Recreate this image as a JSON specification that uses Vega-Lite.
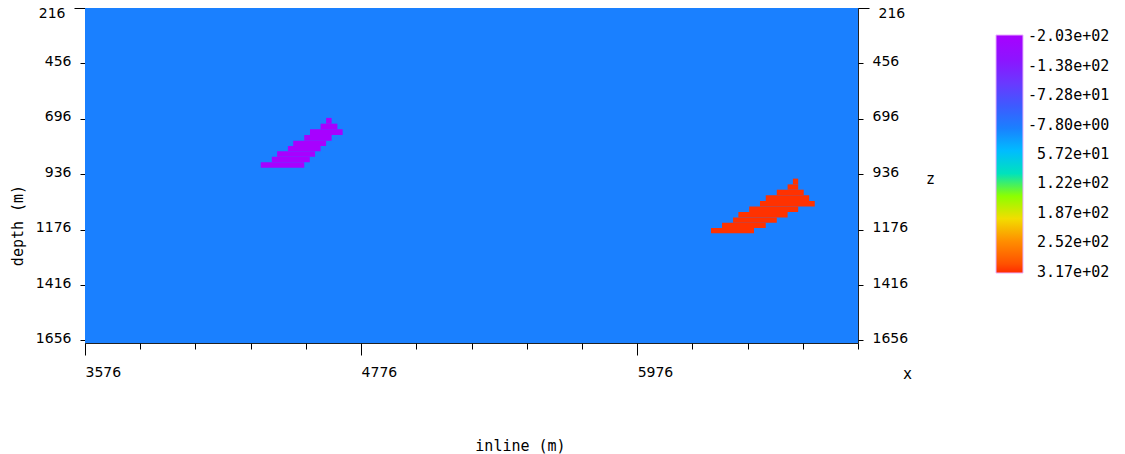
{
  "$schema": "https://vega.github.io/schema/vega-lite/v6.json",
  "width": 773,
  "height": 335,
  "autosize": {"type": "none"},
  "padding": {"left": 85, "top": 8, "right": 267, "bottom": 111},
  "background": "white",
  "config": {
    "view": {"stroke": "#222", "strokeWidth": 1},
    "axis": {"grid": false, "domain": false, "tickColor": "black", "labelColor": "black", "titleColor": "black", "titleFontWeight": "normal"}
  },
  "title": {"text": "inline (m)", "orient": "bottom", "anchor": "middle", "frame": "group", "dx": 49, "offset": 58, "font": "DejaVu Sans Mono", "fontSize": 15, "fontWeight": "normal", "color": "black"},
  "data": {"values": [
    {"x0": 3576, "x1": 6936, "y0": 216, "y1": 1667, "v": 0},
    {"x0": 4624, "x1": 4648, "y0": 692, "y1": 717, "v": -203},
    {"x0": 4600, "x1": 4673, "y0": 717, "y1": 741, "v": -203},
    {"x0": 4554, "x1": 4696, "y0": 741, "y1": 766, "v": -203},
    {"x0": 4529, "x1": 4648, "y0": 766, "y1": 791, "v": -203},
    {"x0": 4481, "x1": 4624, "y0": 791, "y1": 814, "v": -203},
    {"x0": 4458, "x1": 4600, "y0": 814, "y1": 837, "v": -203},
    {"x0": 4411, "x1": 4576, "y0": 837, "y1": 860, "v": -203},
    {"x0": 4388, "x1": 4553, "y0": 860, "y1": 884, "v": -203},
    {"x0": 4340, "x1": 4529, "y0": 884, "y1": 908, "v": -203},
    {"x0": 6653, "x1": 6676, "y0": 955, "y1": 980, "v": 317},
    {"x0": 6630, "x1": 6676, "y0": 980, "y1": 1003, "v": 317},
    {"x0": 6583, "x1": 6700, "y0": 1003, "y1": 1027, "v": 317},
    {"x0": 6535, "x1": 6724, "y0": 1027, "y1": 1052, "v": 317},
    {"x0": 6510, "x1": 6748, "y0": 1052, "y1": 1076, "v": 317},
    {"x0": 6463, "x1": 6676, "y0": 1076, "y1": 1100, "v": 317},
    {"x0": 6416, "x1": 6630, "y0": 1100, "y1": 1123, "v": 317},
    {"x0": 6393, "x1": 6583, "y0": 1123, "y1": 1146, "v": 317},
    {"x0": 6345, "x1": 6535, "y0": 1146, "y1": 1169, "v": 317},
    {"x0": 6297, "x1": 6484, "y0": 1169, "y1": 1192, "v": 317}
  ]},
  "resolve": {"axis": {"y": "independent"}},
  "layer": [
    {
      "mark": {"type": "rect", "strokeWidth": 0},
      "encoding": {
        "x": {"field": "x0", "type": "quantitative",
          "scale": {"domain": [3576, 6936], "nice": false, "zero": false},
          "axis": {
            "orient": "bottom",
            "values": [3576, 3816, 4056, 4296, 4536, 4776, 5016, 5256, 5496, 5736, 5976, 6216, 6456, 6696, 6936],
            "format": "d",
            "labelExpr": "(datum.value - 3576) % 1200 == 0 ? datum.label : ''",
            "tickSize": {"condition": {"test": "(datum.value - 3576) % 1200 == 0", "value": 12}, "value": 6},
            "labelAlign": "left", "labelBaseline": "middle", "labelPadding": 17,
            "labelFont": "DejaVu Sans", "labelFontSize": 14, "labelOverlap": false,
            "title": "x", "titleFont": "DejaVu Sans Mono", "titleFontSize": 15,
            "titleAngle": 0, "titleX": 822, "titleY": 30, "titleAlign": "center", "titleBaseline": "middle"
          }},
        "x2": {"field": "x1"},
        "y": {"field": "y0", "type": "quantitative",
          "scale": {"domain": [216, 1667], "nice": false, "zero": false, "reverse": true},
          "axis": {
            "orient": "left",
            "values": [216, 456, 696, 936, 1176, 1416, 1656],
            "format": "d",
            "tickSize": {"condition": {"test": "datum.value == 216", "value": 11}, "value": 5},
            "labelOffset": {"condition": {"test": "datum.value == 216", "value": 5}, "value": -2},
            "labelPadding": 9, "labelFont": "DejaVu Sans", "labelFontSize": 14, "labelOverlap": false,
            "title": "depth (m)", "titleFont": "DejaVu Sans Mono", "titleFontSize": 15,
            "titleAngle": -90, "titleX": -68, "titleY": 217, "titleAlign": "center", "titleBaseline": "middle"
          }},
        "y2": {"field": "y1"},
        "color": {"field": "v", "type": "quantitative",
          "scale": {
            "domain": [320, 252, 220, 187, 150, 122, 57.2, 0, -7.8, -72.8, -138, -206],
            "range": ["#ff2a00", "#ff8a00", "#ffc000", "#e6ef00", "#8cff00", "#50e880", "#00c4ff", "#1a80ff", "#1a78ff", "#5545ff", "#8518ff", "#a800ff"]
          },
          "legend": {
            "orient": "none", "legendX": 911, "legendY": 27, "direction": "vertical",
            "gradientLength": 238, "gradientThickness": 27, "title": null, "padding": 0,
            "values": [-203, -138, -72.8, -7.8, 57.2, 122, 187, 252, 317],
            "labelExpr": "(datum.value < 0 ? '-' : '') + replace(format(abs(datum.value), '.2e'), 'e+', 'e+0')",
            "labelFont": "DejaVu Sans Mono", "labelFontSize": 15, "labelColor": "black",
            "labelOffset": 5, "labelOverlap": false,
            "gradientStrokeColor": "#e8b0ff", "gradientStrokeWidth": 1,
            "encode": {"labels": {"update": {"dx": {"signal": "datum.value >= 0 ? 9 : 0"}}}}
          }}
      }
    },
    {
      "mark": {"type": "rect", "opacity": 0},
      "encoding": {
        "x": {"field": "x0", "type": "quantitative"},
        "x2": {"field": "x1"},
        "y": {"field": "y0", "type": "quantitative",
          "axis": {
            "orient": "right",
            "values": [216, 456, 696, 936, 1176, 1416, 1656],
            "format": "d",
            "tickSize": {"condition": {"test": "datum.value == 216", "value": 11}, "value": 5},
            "labelOffset": {"condition": {"test": "datum.value == 216", "value": 5}, "value": -2},
            "labelPadding": 9, "labelFont": "DejaVu Sans", "labelFontSize": 14, "labelOverlap": false,
            "title": "z", "titleFont": "DejaVu Sans Mono", "titleFontSize": 15,
            "titleAngle": 0, "titleX": 72, "titleY": 170, "titleAlign": "center", "titleBaseline": "middle"
          }},
        "y2": {"field": "y1"}
      }
    }
  ]
}
